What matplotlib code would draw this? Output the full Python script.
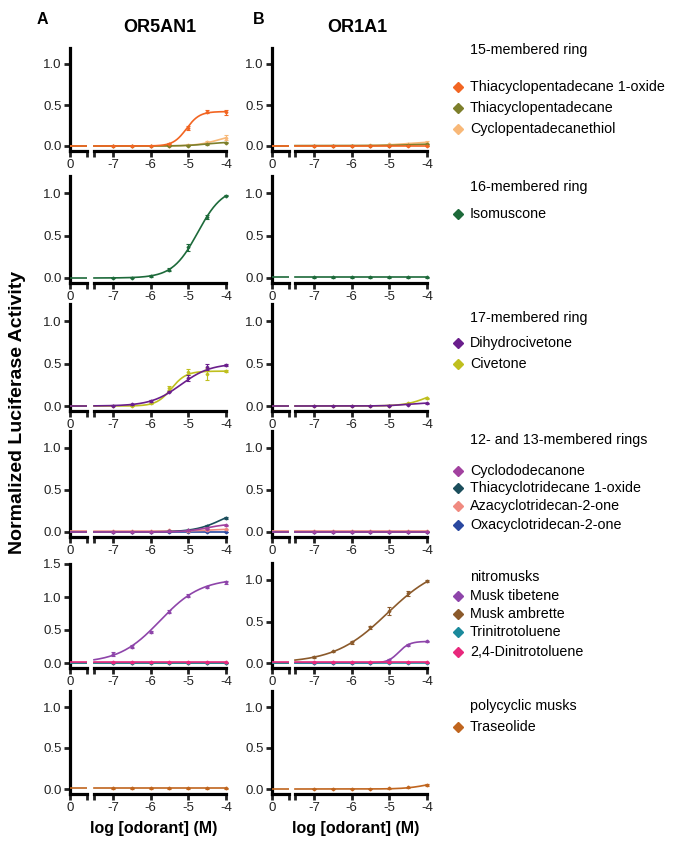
import numpy as np
import matplotlib
matplotlib.use("Agg")
import matplotlib.pyplot as plt
from matplotlib.lines import Line2D

plt.rcParams['font.family'] = ['Liberation Sans', 'DejaVu Sans']

# ---------------- data ----------------
receptors = ["OR5AN1", "OR1A1"]
panel_letters = ["A", "B"]

compounds = [
    "Thiacyclopentadecane 1-oxide", "Thiacyclopentadecane", "Cyclopentadecanethiol",
    "Isomuscone",
    "Dihydrocivetone", "Civetone",
    "Cyclododecanone", "Thiacyclotridecane 1-oxide", "Azacyclotridecan-2-one",
    "Oxacyclotridecan-2-one",
    "Musk tibetene", "Musk ambrette", "Trinitrotoluene", "2,4-Dinitrotoluene",
    "Traseolide",
]
colors = [
    "#F26522", "#7D7F2B", "#F8B878",
    "#1D6A3A",
    "#6A1E8C", "#BFBF1E",
    "#A2419F", "#1B4E5C", "#F08A80", "#2A48A0",
    "#8E45AA", "#8B5A2B", "#1B8A9C", "#E8287C",
    "#C0651E",
]
group_titles = ["15-membered ring", "16-membered ring", "17-membered ring",
                "12- and 13-membered rings", "nitromusks", "polycyclic musks"]
group_members = [[0, 1, 2], [3], [4, 5], [6, 7, 8, 9], [10, 11, 12, 13], [14]]

log_conc = [-7.0, -6.5, -6.0, -5.5, -5.0, -4.5, -4.0]

# fitted dose-response parameters: (bottom, top, logEC50, hill)
fit_or5an1 = [
    (0.0, 0.42, -5.05, 2.5), (0.0, 0.05, -4.5, 1.5), (0.0, 0.15, -4.2, 1.5),
    (0.0, 1.07, -4.75, 1.3),
    (0.0, 0.50, -5.2, 1.1), (0.0, 0.41, -5.45, 2.2),
    (0.0, 0.10, -4.5, 1.5), (0.0, 0.30, -4.1, 1.2), (0.01, 0.035, -4.5, 1.5), (0.0, 0.0, -5.0, 1.0),
    (0.0, 1.28, -5.75, 0.8), (0.0, 0.0, -5.0, 1.0), (0.0, 0.0, -5.0, 1.0), (0.01, 0.01, -5.0, 1.0),
    (0.01, 0.01, -5.0, 1.0),
]
fit_or1a1 = [
    (0.0, 0.0, -5.0, 1.0), (0.005, 0.03, -4.3, 1.2), (0.0, 0.06, -4.5, 1.0),
    (0.01, 0.01, -5.0, 1.0),
    (0.0, 0.04, -4.5, 1.5), (0.0, 0.20, -4.0, 1.5),
    (0.005, 0.005, -5.0, 1.0), (0.0, 0.0, -5.0, 1.0), (0.01, 0.01, -5.0, 1.0), (0.0, 0.0, -5.0, 1.0),
    (0.0, 0.26, -4.75, 3.0), (0.0, 1.20, -5.05, 0.62), (0.0, 0.0, -5.0, 1.0), (0.01, 0.01, -5.0, 1.0),
    (0.0, 0.10, -4.0, 1.5),
]

# measured points (mean) and SEM at log_conc
pts_or5an1 = [
    [0.0, 0.0, 0.0, 0.03, 0.22, 0.42, 0.41],
    [0.0, 0.0, 0.0, 0.0, 0.005, 0.02, 0.04],
    [0.0, 0.0, 0.0, 0.0, 0.01, 0.05, 0.10],
    [0.0, 0.005, 0.02, 0.10, 0.36, 0.72, 0.97],
    [0.005, 0.02, 0.06, 0.17, 0.33, 0.46, 0.48],
    [0.0, 0.0, 0.03, 0.21, 0.40, 0.38, 0.41],
    [0.0, 0.0, 0.0, 0.01, 0.02, 0.04, 0.08],
    [0.0, 0.0, 0.0, 0.01, 0.02, 0.07, 0.17],
    [0.01, 0.01, 0.01, 0.02, 0.01, 0.02, 0.03],
    [0.0, 0.0, 0.0, 0.0, 0.0, 0.0, 0.0],
    [0.13, 0.25, 0.47, 0.78, 1.02, 1.15, 1.22],
    [0.0, 0.0, 0.0, 0.0, 0.0, 0.0, 0.0],
    [0.0, 0.0, 0.0, 0.0, 0.0, 0.0, 0.0],
    [0.01, 0.01, 0.01, 0.01, 0.01, 0.01, 0.01],
    [0.01, 0.01, 0.01, 0.01, 0.01, 0.01, 0.01],
]
err_or5an1 = [
    [0.005, 0.005, 0.005, 0.01, 0.02, 0.02, 0.03],
    [0.005] * 7,
    [0.005, 0.005, 0.005, 0.005, 0.01, 0.01, 0.03],
    [0.005, 0.005, 0.01, 0.02, 0.04, 0.02, 0.01],
    [0.005, 0.005, 0.01, 0.01, 0.03, 0.04, 0.01],
    [0.005, 0.005, 0.01, 0.02, 0.03, 0.07, 0.01],
    [0.005] * 7,
    [0.005, 0.005, 0.005, 0.005, 0.005, 0.01, 0.01],
    [0.005] * 7,
    [0.005] * 7,
    [0.03, 0.02, 0.02, 0.02, 0.02, 0.02, 0.03],
    [0.005] * 7,
    [0.005] * 7,
    [0.005] * 7,
    [0.005] * 7,
]
pts_or1a1 = [
    [0.0, 0.0, 0.0, 0.0, 0.0, 0.0, 0.0],
    [0.005, 0.005, 0.005, 0.005, 0.005, 0.01, 0.02],
    [0.0, 0.0, 0.005, 0.01, 0.02, 0.03, 0.04],
    [0.01, 0.01, 0.01, 0.01, 0.01, 0.01, 0.01],
    [0.0, 0.0, 0.0, 0.0, 0.005, 0.015, 0.03],
    [0.0, 0.0, 0.0, 0.0, 0.005, 0.03, 0.09],
    [0.005, 0.005, 0.005, 0.005, 0.005, 0.005, 0.005],
    [0.0, 0.0, 0.0, 0.0, 0.0, 0.0, 0.0],
    [0.01, 0.01, 0.01, 0.01, 0.01, 0.01, 0.01],
    [0.0, 0.0, 0.0, 0.0, 0.0, 0.0, 0.0],
    [0.0, 0.0, 0.0, 0.005, 0.04, 0.22, 0.26],
    [0.07, 0.14, 0.25, 0.43, 0.63, 0.84, 0.99],
    [0.0, 0.0, 0.0, 0.0, 0.0, 0.0, 0.0],
    [0.01, 0.01, 0.01, 0.01, 0.01, 0.01, 0.01],
    [0.0, 0.0, 0.0, 0.0, 0.01, 0.02, 0.05],
]
err_or1a1 = [
    [0.005] * 7,
    [0.005] * 7,
    [0.005, 0.005, 0.005, 0.005, 0.005, 0.01, 0.02],
    [0.005] * 7,
    [0.005] * 7,
    [0.005, 0.005, 0.005, 0.005, 0.005, 0.01, 0.01],
    [0.005] * 7,
    [0.005] * 7,
    [0.005] * 7,
    [0.005] * 7,
    [0.005, 0.005, 0.005, 0.005, 0.01, 0.01, 0.01],
    [0.01, 0.01, 0.02, 0.02, 0.05, 0.03, 0.01],
    [0.005] * 7,
    [0.005] * 7,
    [0.005, 0.005, 0.005, 0.005, 0.005, 0.005, 0.01],
]

fits = [fit_or5an1, fit_or1a1]
points = [pts_or5an1, pts_or1a1]
errors = [err_or5an1, err_or1a1]
y_ticks = [0.0, 0.5, 1.0]
y_ticks_tall = [0.0, 0.5, 1.0, 1.5]
x_ticks = [-7, -6, -5, -4]

# ---------------- layout ----------------
W, H = 684, 843
fig = plt.figure(figsize=(W / 100, H / 100), dpi=100)
fig.patch.set_facecolor("white")

row_zero = [146, 278, 406, 532, 663, 789]
row_one = [64, 193, 321, 448, 580, 707]
col_small = [(70, 87), (272, 289)]
col_main = [(94, 226), (295, 427)]
SPW = 2.3


def px_axes(x0, x1, ytop, ybot):
    return fig.add_axes([x0 / W, 1 - ybot / H, (x1 - x0) / W, (ybot - ytop) / H])


def ftext(x, y, s, **kw):
    fig.text(x / W, 1 - y / H, s, **kw)


def hill(x, b, t, ec, h):
    return b + (t - b) / (1 + 10 ** ((ec - x) * h))


xs_curve = np.linspace(-7.5, -4.0, 200)

for r in range(6):
    for c in range(2):
        tall = (r == 4 and c == 0)
        ymax = 1.5 if tall else 1.2
        ymin = -0.075 if tall else -0.06
        scale = (row_zero[r] - row_one[r]) if not tall else 66.0
        ytop = row_zero[r] - scale * ymax
        ybot = row_zero[r] - scale * ymin
        ax0 = px_axes(col_small[c][0], col_small[c][1], ytop, ybot)
        ax1 = px_axes(col_main[c][0], col_main[c][1], ytop, ybot)
        for ax in (ax0, ax1):
            ax.set_ylim(ymin, ymax)
            ax.patch.set_alpha(0)
            for s in ("top", "right"):
                ax.spines[s].set_visible(False)
            ax.spines["bottom"].set_linewidth(SPW)
            ax.spines["left"].set_linewidth(SPW)
            ax.tick_params(direction="out", length=4, width=2, labelsize=9.5,
                           pad=2, colors="#222222")
        ax1.spines["left"].set_visible(False)
        ax1.set_yticks([])
        ax0.set_yticks(y_ticks_tall if tall else y_ticks)
        ax0.set_yticklabels([f"{v:.1f}" for v in (y_ticks_tall if tall else y_ticks)])
        ax0.set_xlim(0, 1)
        ax0.set_xticks([0, 1])
        ax0.set_xticklabels(["0", ""])
        ax1.set_xlim(-7.5, -4.0)
        ax1.set_xticks([-7.5] + x_ticks)
        ax1.set_xticklabels([""] + [str(v) for v in x_ticks])

        members = group_members[r]
        n = len(members)
        for k, idx in enumerate(members):
            b, t, ec, h = fits[c][idx]
            z = 10 + (k if r == 4 else (n - k))
            col = colors[idx]
            ax0.plot([0, 1], [b, b], color=col, lw=1.2, zorder=z, clip_on=False,
                     solid_capstyle="butt")
            ax1.plot(xs_curve, hill(xs_curve, b, t, ec, h), color=col, lw=1.2,
                     zorder=z, clip_on=False)
            ax1.errorbar(log_conc, points[c][idx], yerr=errors[c][idx], fmt="D",
                         ms=1.4, color=col, ecolor=col, elinewidth=0.8, capsize=1.5,
                         capthick=0.8, zorder=z, clip_on=False)

# ---------------- texts ----------------
ftext(42, 20, "A", fontsize=11.5, fontweight="bold", ha="center", va="center")
ftext(259, 19, "B", fontsize=11.5, fontweight="bold", ha="center", va="center")
ftext(160, 28, receptors[0], fontsize=13, fontweight="bold", ha="center", va="center")
ftext(357, 28, receptors[1], fontsize=13, fontweight="bold", ha="center", va="center")
ftext(154, 828, "log [odorant] (M)", fontsize=11.5, fontweight="bold", ha="center", va="center")
ftext(356, 828, "log [odorant] (M)", fontsize=11.5, fontweight="bold", ha="center", va="center")
ftext(18, 412, "Normalized Luciferase Activity", fontsize=14, fontweight="bold",
      ha="center", va="center", rotation=90)

# legend
title_y = [50, 187, 318, 440, 577, 706]
item_y = [[87, 108, 129], [214], [343, 364], [471, 488, 506, 525], [596, 614, 632, 652], [727]]
for g in range(6):
    ftext(470, title_y[g], group_titles[g], fontsize=10.3, ha="left", va="center")
    for k, idx in enumerate(group_members[g]):
        y = item_y[g][k]
        fig.lines.append(Line2D([458 / W], [1 - y / H], marker="D", ms=5.5,
                                color=colors[idx], linestyle="none",
                                transform=fig.transFigure))
        ftext(470, y, compounds[idx], fontsize=10.3, ha="left", va="center")

fig.savefig("out.png", dpi=100, facecolor="white")
